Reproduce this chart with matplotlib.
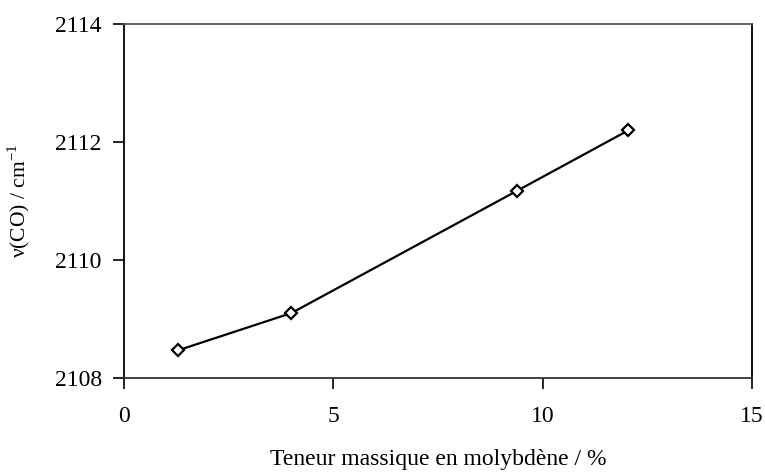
import matplotlib
matplotlib.use("Agg")
import matplotlib.pyplot as plt

# Mo loading (wt %) and CO stretching frequency
teneur_mo = [1.3, 4.0, 9.38, 12.05]
nu_co = [2108.47, 2109.1, 2111.17, 2112.2]

x_ticks = [0, 5, 10, 15]
y_ticks = [2108, 2110, 2112, 2114]

plt.rcParams['font.family'] = ['Liberation Serif', 'DejaVu Serif']
plt.rcParams['mathtext.fontset'] = 'custom'
plt.rcParams['mathtext.rm'] = 'Liberation Serif'

fig = plt.figure(figsize=(7.65, 4.73), dpi=100)
ax = fig.add_axes([0.162, 0.201, 0.821, 0.748])

ax.plot(teneur_mo, nu_co, color='black', linewidth=1.6,
        marker='D', markersize=6.5, markerfacecolor='white',
        markeredgecolor='black', markeredgewidth=1.6)

ax.set_xlim(0, 15)
ax.set_ylim(2108, 2114)
ax.set_xticks(x_ticks)
ax.set_yticks(y_ticks)
ax.tick_params(axis='both', direction='out', length=8, width=1.2,
               labelsize=17, pad=8)
ax.tick_params(axis='y', right=False)
ax.tick_params(axis='x', top=False, pad=12)

for side in ['left', 'bottom', 'top', 'right']:
    ax.spines[side].set_linewidth(1.3)
    ax.spines[side].set_color('black')
ax.spines['top'].set_color('#555555')
ax.spines['bottom'].set_color('#333333')

ax.set_xlabel('Teneur massique en molybdène / %', fontsize=17, labelpad=16)
ax.set_ylabel(r'ν(CO) / cm$^{\mathrm{-1}}$', fontsize=15.5, labelpad=16)

fig.savefig('out.png', dpi=100)
